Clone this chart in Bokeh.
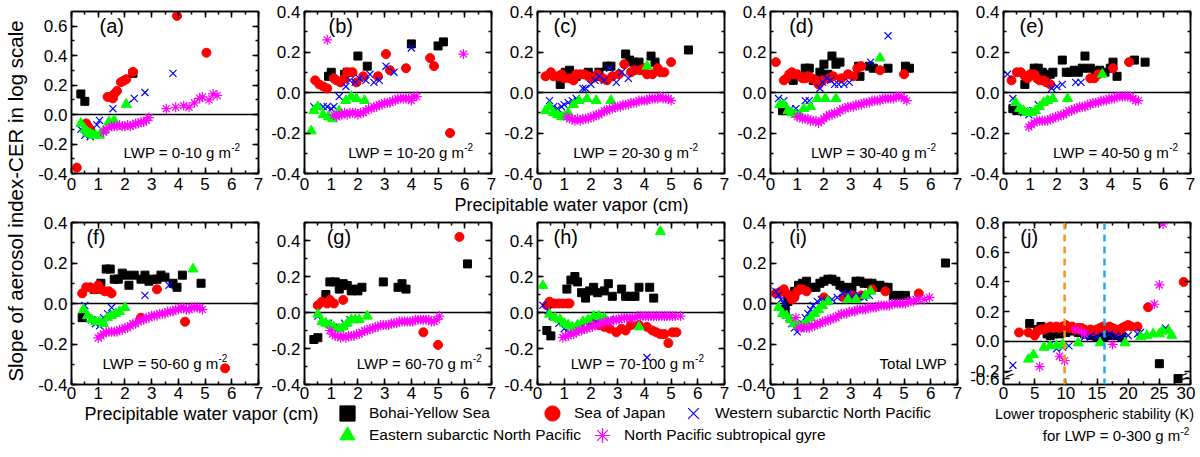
import math
from bokeh.plotting import figure
from bokeh.models import (Range1d, LinearAxis, SingleIntervalTicker, FixedTicker,
                          PrintfTickFormatter, Span, Label, Legend, LegendItem)
from bokeh.layouts import row, column
from bokeh.embed import file_html
from bokeh.resources import INLINE

FONT = "Liberation Sans"

SERIES_NAMES = ["Bohai-Yellow Sea", "Sea of Japan", "Western subarctic North Pacific",
                "Eastern subarctic North Pacific", "North Pacific subtropical gyre"]
SERIES_KEYS = ["bys", "soj", "wsnp", "esnp", "npsg"]

X_TITLE = "Precipitable water vapor (cm)"
Y_TITLE = "Slope of aerosol index-CER in log scale"
J_TITLE = "Lower tropospheric stability (K)"
J_SUB = "for LWP = 0-300 g m"
PANEL_LETTERS = ["(a)", "(b)", "(c)", "(d)", "(e)", "(f)", "(g)", "(h)", "(i)", "(j)"]
LWP_TEXTS = ["LWP = 0-10 g m", "LWP = 10-20 g m", "LWP = 20-30 g m", "LWP = 30-40 g m",
             "LWP = 40-50 g m", "LWP = 50-60 g m", "LWP = 60-70 g m", "LWP = 70-100 g m",
             "Total LWP", None]

# ---------------- data: (precipitable water vapor [cm], slope) ----------------
a_bys = [(0.35, 0.14), (0.5, 0.09), (2.3, 0.28)]
a_soj = [(0.2, -0.36), (0.55, -0.06), (0.62, -0.08), (0.7, -0.1), (1.35, 0.12), (1.45, 0.12),
         (1.55, 0.11), (1.6, 0.14), (1.7, 0.16), (1.85, 0.22), (1.95, 0.23), (2.05, 0.24),
         (2.3, 0.29), (3.95, 0.67), (5.05, 0.42)]
a_wsnp = [(0.35, -0.1), (0.5, -0.14), (0.7, -0.15), (0.95, -0.07), (1.05, -0.04), (1.55, 0.04),
          (2.1, 0.07), (2.35, 0.11), (2.75, 0.15), (3.8, 0.28)]
a_esnp = [(0.35, -0.06), (0.5, -0.1), (0.6, -0.12), (0.7, -0.13), (0.8, -0.14), (0.9, -0.14),
          (1.05, -0.14), (1.2, -0.11), (1.4, -0.05), (1.6, -0.04), (2.05, 0.07)]
a_npsg = [(1.2, -0.12), (1.3, -0.1), (1.4, -0.09), (1.5, -0.08), (1.6, -0.08), (1.7, -0.08),
          (1.8, -0.07), (1.9, -0.08), (2.0, -0.08), (2.1, -0.07), (2.2, -0.08), (2.3, -0.07),
          (2.4, -0.06), (2.5, -0.06), (2.6, -0.05), (2.7, -0.05), (2.8, -0.04), (2.9, -0.02),
          (3.55, 0.04), (3.9, 0.05), (4.2, 0.06), (4.4, 0.05), (4.6, 0.08), (4.8, 0.11),
          (4.9, 0.12), (5.15, 0.1), (5.3, 0.14), (5.45, 0.13)]

b_bys = [(0.9, 0.08), (1.0, 0.1), (1.5, 0.09), (1.6, 0.1), (2.0, 0.18), (2.35, 0.13),
         (4.0, 0.24), (5.0, 0.23), (5.2, 0.25)]
b_soj = [(0.4, 0.06), (0.55, 0.04), (0.7, 0.03), (0.85, 0.02), (1.1, 0.07), (1.2, 0.06),
         (1.35, 0.05), (1.5, 0.07), (1.6, 0.1), (1.8, 0.1), (1.95, 0.05), (2.2, 0.08),
         (2.75, 0.08), (3.05, 0.19), (3.2, 0.11), (3.8, 0.12), (4.7, 0.17), (4.85, 0.13),
         (5.45, -0.2)]
b_wsnp = [(0.35, -0.07), (0.7, -0.07), (0.85, -0.07), (1.0, -0.08), (1.1, -0.07), (1.3, -0.02),
          (1.55, 0.03), (1.7, 0.06), (1.9, 0.05), (2.05, 0.07), (2.3, 0.06), (2.45, 0.09),
          (2.6, 0.05), (2.8, 0.06), (3.05, 0.13), (3.35, 0.1), (4.0, 0.22)]
b_esnp = [(0.25, -0.19), (0.35, -0.09), (0.5, -0.07), (0.7, -0.11), (0.9, -0.12), (1.05, -0.13),
          (1.3, -0.09), (1.55, -0.04), (1.75, -0.02), (1.95, -0.03), (2.25, -0.04)]
b_npsg = [(0.85, 0.26), (1.1, -0.11), (1.2, -0.12), (1.3, -0.11), (1.4, -0.11), (1.5, -0.1),
          (1.6, -0.11), (1.7, -0.1), (1.8, -0.1), (1.9, -0.1), (2.0, -0.11), (2.1, -0.1),
          (2.2, -0.1), (2.3, -0.09), (2.4, -0.08), (2.5, -0.08), (2.6, -0.07), (2.7, -0.07),
          (2.8, -0.06), (2.9, -0.06), (3.0, -0.05), (3.1, -0.05), (3.2, -0.05), (3.3, -0.04),
          (3.4, -0.04), (3.5, -0.03), (3.6, -0.03), (3.7, -0.03), (3.8, -0.03), (3.9, -0.03),
          (4.0, -0.04), (4.1, -0.02), (4.2, -0.02), (5.95, 0.19)]

c_bys = [(0.85, 0.04), (1.05, 0.1), (1.2, 0.11), (1.45, 0.08), (1.9, 0.1), (2.2, 0.08),
         (2.3, 0.1), (2.6, 0.13), (2.75, 0.13), (3.3, 0.19), (3.45, 0.16), (3.6, 0.15),
         (3.8, 0.15), (4.25, 0.18), (4.4, 0.15), (5.65, 0.21)]
c_soj = [(0.3, 0.08), (0.5, 0.1), (0.6, 0.08), (0.75, 0.08), (0.9, 0.09), (1.0, 0.07),
         (1.2, 0.07), (1.35, 0.06), (1.45, 0.09), (1.6, 0.09), (1.75, 0.09), (1.9, 0.08),
         (2.05, 0.07), (2.25, 0.09), (2.45, 0.07), (2.6, 0.06), (2.8, 0.08), (3.05, 0.09),
         (3.25, 0.14), (3.5, 0.1), (3.65, 0.11), (3.85, 0.11), (4.0, 0.12), (4.1, 0.09),
         (4.3, 0.09), (4.5, 0.12), (4.6, 0.1), (4.75, 0.1), (5.0, 0.15)]
c_wsnp = [(0.45, -0.04), (0.6, -0.07), (0.75, -0.08), (0.9, -0.07), (1.0, -0.06), (1.15, -0.05),
          (1.3, -0.04), (1.45, -0.03), (1.7, 0.02), (1.8, 0.02), (2.0, 0.04), (2.15, 0.06),
          (2.3, 0.08), (2.5, 0.06), (2.7, 0.12), (2.95, 0.05), (3.15, 0.1), (3.4, 0.07)]
c_esnp = [(0.3, -0.09), (0.45, -0.07), (0.6, -0.1), (0.75, -0.11), (0.9, -0.12), (1.0, -0.12),
          (1.15, -0.1), (1.35, -0.06), (1.55, -0.04), (1.85, -0.03), (2.2, -0.04), (2.75, -0.04),
          (4.1, 0.13)]
c_npsg = [(1.1, -0.12), (1.2, -0.13), (1.3, -0.13), (1.4, -0.14), (1.5, -0.13), (1.6, -0.14),
          (1.7, -0.13), (1.8, -0.13), (1.9, -0.13), (2.0, -0.12), (2.1, -0.12), (2.2, -0.11),
          (2.3, -0.11), (2.4, -0.1), (2.5, -0.09), (2.6, -0.09), (2.7, -0.08), (2.8, -0.08),
          (2.9, -0.07), (3.0, -0.07), (3.1, -0.07), (3.2, -0.06), (3.3, -0.06), (3.4, -0.06),
          (3.5, -0.05), (3.6, -0.05), (3.7, -0.05), (3.8, -0.04), (3.9, -0.04), (4.0, -0.04),
          (4.1, -0.04), (4.2, -0.03), (4.3, -0.03), (4.4, -0.03), (4.5, -0.03), (4.6, -0.02),
          (4.7, -0.03), (4.8, -0.03), (4.9, -0.03), (5.0, -0.04)]

d_bys = [(0.45, -0.09), (0.85, 0.06), (1.3, 0.12), (1.45, 0.12), (1.6, 0.06), (1.85, 0.1),
         (2.0, 0.14), (2.15, 0.09), (2.3, 0.18), (2.45, 0.14), (2.6, 0.15), (3.3, 0.13),
         (3.35, 0.08), (3.7, 0.13), (3.85, 0.12), (4.4, 0.12), (5.05, 0.13), (5.2, 0.12)]
d_soj = [(0.2, 0.15), (0.5, 0.06), (0.6, 0.07), (0.7, 0.09), (0.8, 0.1), (0.9, 0.09),
         (1.0, 0.09), (1.1, 0.08), (1.2, 0.07), (1.3, 0.07), (1.4, 0.08), (1.55, 0.07),
         (1.7, 0.06), (1.8, 0.04), (1.95, 0.06), (2.2, 0.07), (2.35, 0.08), (2.65, 0.07),
         (2.9, 0.09), (3.1, 0.08), (3.25, 0.12), (3.4, 0.13), (4.1, 0.11), (5.0, 0.09)]
d_wsnp = [(0.3, -0.03), (0.5, -0.04), (0.75, -0.08), (0.95, -0.08), (1.1, -0.1), (1.3, -0.04),
          (1.45, -0.04), (1.85, 0.02), (1.95, 0.05), (2.1, 0.07), (2.25, 0.06), (2.4, 0.04),
          (2.55, 0.04), (2.75, 0.04), (2.95, 0.05), (3.75, 0.15), (4.4, 0.28)]
d_esnp = [(0.35, -0.06), (0.5, -0.06), (0.65, -0.09), (0.8, -0.1), (0.95, -0.11), (1.1, -0.11),
          (1.25, -0.08), (1.5, -0.07), (1.75, -0.03), (2.05, -0.03), (2.45, -0.03), (4.1, 0.17)]
d_npsg = [(1.0, -0.12), (1.1, -0.12), (1.2, -0.13), (1.3, -0.13), (1.4, -0.13), (1.5, -0.14),
          (1.6, -0.14), (1.7, -0.14), (1.8, -0.15), (1.9, -0.14), (2.0, -0.13), (2.1, -0.12),
          (2.2, -0.11), (2.3, -0.11), (2.4, -0.1), (2.5, -0.1), (2.6, -0.09), (2.7, -0.08),
          (2.8, -0.08), (2.9, -0.07), (3.0, -0.07), (3.1, -0.07), (3.2, -0.06), (3.3, -0.06),
          (3.4, -0.06), (3.5, -0.05), (3.6, -0.05), (3.7, -0.05), (3.8, -0.04), (3.9, -0.04),
          (4.0, -0.04), (4.1, -0.04), (4.2, -0.03), (4.3, -0.03), (4.4, -0.03), (4.5, -0.03),
          (4.6, -0.03), (4.7, -0.02), (4.8, -0.02), (4.9, -0.02), (5.0, -0.03), (5.1, -0.04)]

e_bys = [(0.35, -0.08), (0.5, -0.09), (0.8, 0.04), (1.15, 0.12), (1.3, 0.12), (1.45, 0.1),
         (1.6, 0.07), (1.75, 0.09), (1.85, 0.1), (2.2, 0.16), (2.35, 0.1), (2.5, 0.1),
         (2.65, 0.11), (2.8, 0.1), (2.95, 0.12), (3.05, 0.18), (3.25, 0.12), (3.45, 0.1),
         (3.6, 0.11), (3.8, 0.1), (4.0, 0.12), (4.1, 0.15), (4.25, 0.08), (4.9, 0.16), (5.3, 0.15)]
e_soj = [(0.3, 0.06), (0.5, 0.1), (0.65, 0.1), (0.8, 0.08), (0.9, 0.07), (1.0, 0.09),
         (1.15, 0.09), (1.25, 0.07), (1.35, 0.06), (1.5, 0.06), (1.6, 0.05), (1.75, 0.04),
         (3.25, 0.07), (3.4, 0.07), (3.55, 0.09), (4.1, 0.12), (4.7, 0.15)]
e_wsnp = [(0.15, 0.09), (0.35, -0.03), (0.55, -0.08), (0.75, -0.1), (0.95, -0.11), (1.1, -0.09),
          (1.3, -0.06), (1.8, 0.02), (2.0, 0.03), (2.2, 0.04), (2.7, 0.05), (2.9, 0.05)]
e_esnp = [(0.45, -0.05), (0.6, -0.08), (0.75, -0.09), (0.9, -0.1), (1.05, -0.1), (1.2, -0.09),
          (1.35, -0.07), (1.5, -0.05), (1.65, -0.04), (1.85, -0.03), (2.4, -0.03), (3.7, 0.09)]
e_npsg = [(0.95, -0.17), (1.05, -0.16), (1.15, -0.15), (1.25, -0.14), (1.35, -0.14), (1.45, -0.14),
          (1.55, -0.14), (1.65, -0.14), (1.75, -0.13), (1.85, -0.13), (1.95, -0.12), (2.05, -0.12),
          (2.15, -0.11), (2.25, -0.11), (2.35, -0.1), (2.45, -0.09), (2.55, -0.09), (2.65, -0.08),
          (2.75, -0.08), (2.85, -0.07), (2.95, -0.07), (3.05, -0.07), (3.15, -0.06), (3.25, -0.06),
          (3.35, -0.05), (3.45, -0.05), (3.55, -0.05), (3.65, -0.04), (3.75, -0.04), (3.85, -0.04),
          (3.95, -0.03), (4.05, -0.03), (4.15, -0.03), (4.25, -0.02), (4.35, -0.02), (4.45, -0.02),
          (4.55, -0.02), (4.65, -0.02), (4.75, -0.02), (4.85, -0.03), (4.95, -0.04), (5.05, -0.04)]

f_bys = [(0.4, -0.07), (0.85, 0.07), (1.1, 0.1), (1.3, 0.17), (1.45, 0.17), (1.6, 0.12),
         (1.75, 0.12), (1.9, 0.15), (2.05, 0.14), (2.15, 0.09), (2.35, 0.14), (2.6, 0.12),
         (2.75, 0.14), (2.9, 0.11), (3.05, 0.12), (3.2, 0.12), (3.35, 0.14), (3.5, 0.13),
         (3.8, 0.1), (3.95, 0.08), (4.15, 0.14), (4.85, 0.1)]
f_soj = [(0.4, 0.05), (0.55, 0.08), (0.7, 0.08), (0.85, 0.07), (1.0, 0.09), (1.1, 0.07),
         (1.25, 0.06), (1.4, 0.06), (1.5, 0.05), (2.6, -0.07), (3.2, 0.07), (4.25, -0.09),
         (5.75, -0.32)]
f_wsnp = [(0.5, -0.01), (0.6, -0.07), (0.75, -0.08), (0.9, -0.1), (1.05, -0.11), (1.2, -0.07),
          (1.35, -0.05), (1.5, -0.02), (2.75, 0.04), (3.65, 0.09)]
f_esnp = [(0.45, -0.03), (0.6, -0.06), (0.75, -0.08), (0.9, -0.09), (1.05, -0.09), (1.2, -0.1),
          (1.35, -0.07), (1.5, -0.06), (1.65, -0.05), (1.8, -0.04), (2.0, -0.02), (4.55, 0.17)]
f_npsg = [(1.0, -0.17), (1.1, -0.16), (1.2, -0.15), (1.3, -0.14), (1.4, -0.14), (1.5, -0.14),
          (1.6, -0.14), (1.7, -0.14), (1.8, -0.13), (1.9, -0.13), (2.0, -0.12), (2.1, -0.12),
          (2.2, -0.11), (2.3, -0.1), (2.4, -0.1), (2.5, -0.09), (2.6, -0.08), (2.7, -0.08),
          (2.8, -0.07), (2.9, -0.07), (3.0, -0.06), (3.1, -0.06), (3.2, -0.06), (3.3, -0.05),
          (3.4, -0.05), (3.5, -0.05), (3.6, -0.04), (3.7, -0.04), (3.8, -0.04), (3.9, -0.03),
          (4.0, -0.03), (4.1, -0.02), (4.2, -0.02), (4.3, -0.03), (4.4, -0.03), (4.5, -0.02),
          (4.6, -0.02), (4.7, -0.02), (4.8, -0.02), (4.9, -0.03)]

g_bys = [(0.35, -0.15), (0.5, -0.14), (0.8, 0.1), (0.95, 0.17), (1.15, 0.17), (1.3, 0.13),
         (1.45, 0.16), (1.6, 0.15), (1.75, 0.12), (1.9, 0.13), (2.0, 0.12), (2.15, 0.14),
         (2.95, 0.17), (3.5, 0.14), (3.65, 0.16), (3.8, 0.13), (6.1, 0.27)]
g_soj = [(0.5, 0.04), (0.65, 0.06), (0.85, 0.05), (0.95, 0.07), (1.1, 0.05), (1.45, 0.07),
         (4.45, -0.11), (5.0, -0.18), (5.8, 0.42)]
g_wsnp = [(0.5, -0.02), (0.7, -0.05), (0.9, -0.06), (1.1, -0.09), (1.3, -0.08), (1.5, -0.06),
          (1.7, -0.04), (1.85, -0.04)]
g_esnp = [(0.5, -0.01), (0.65, -0.05), (0.8, -0.06), (0.95, -0.07), (1.1, -0.08), (1.3, -0.09),
          (1.45, -0.08), (1.6, -0.06), (1.75, -0.04), (1.9, -0.04), (2.05, -0.04), (2.35, -0.02)]
g_npsg = [(0.95, -0.1), (1.05, -0.12), (1.15, -0.13), (1.25, -0.13), (1.35, -0.14), (1.45, -0.13),
          (1.55, -0.14), (1.65, -0.13), (1.75, -0.13), (1.85, -0.13), (1.95, -0.12), (2.05, -0.12),
          (2.15, -0.11), (2.25, -0.1), (2.35, -0.1), (2.45, -0.09), (2.55, -0.09), (2.65, -0.08),
          (2.75, -0.08), (2.85, -0.07), (2.95, -0.07), (3.05, -0.07), (3.15, -0.07), (3.25, -0.06),
          (3.35, -0.06), (3.45, -0.06), (3.55, -0.05), (3.65, -0.05), (3.75, -0.05), (3.85, -0.05),
          (3.95, -0.05), (4.05, -0.05), (4.15, -0.04), (4.25, -0.04), (4.35, -0.04), (4.45, -0.04),
          (4.55, -0.04), (4.65, -0.04), (4.75, -0.05), (4.85, -0.05), (4.95, -0.04), (5.05, -0.02)]

h_bys = [(0.35, -0.1), (0.5, -0.13), (1.1, 0.13), (1.25, 0.18), (1.4, 0.2), (1.5, 0.17),
         (1.65, 0.11), (1.8, 0.08), (1.95, 0.12), (2.1, 0.14), (2.25, 0.11), (2.5, 0.12),
         (2.65, 0.16), (2.8, 0.09), (3.15, 0.13), (3.3, 0.09), (3.5, 0.09), (3.65, 0.09),
         (3.8, 0.14), (4.2, 0.14), (4.35, 0.08)]
h_soj = [(0.35, 0.04), (0.45, 0.06), (0.55, 0.05), (0.65, 0.05), (0.8, 0.05), (0.95, 0.05),
         (1.1, 0.05), (1.2, 0.05), (2.05, -0.06), (2.3, -0.07), (2.5, -0.08), (2.7, -0.09),
         (2.95, -0.11), (3.15, -0.09), (3.3, -0.1), (3.5, -0.07), (3.8, -0.07), (4.1, -0.08),
         (4.3, -0.1), (4.45, -0.11), (4.6, -0.12), (4.75, -0.12), (4.9, -0.17), (5.05, -0.11),
         (5.2, -0.11)]
h_wsnp = [(0.2, 0.04), (0.4, 0.01), (0.55, -0.02), (0.8, -0.06), (1.0, -0.09), (1.2, -0.11),
          (1.45, -0.09), (1.7, -0.07), (1.95, -0.06), (2.2, -0.05), (2.45, -0.04), (2.7, -0.04),
          (2.95, -0.04), (4.1, -0.25)]
h_esnp = [(0.2, 0.15), (0.45, -0.01), (0.65, -0.03), (0.85, -0.04), (1.0, -0.06), (1.15, -0.07),
          (1.3, -0.08), (1.5, -0.07), (1.7, -0.05), (1.9, -0.04), (2.1, -0.02), (2.3, -0.02),
          (2.5, -0.03), (3.8, -0.08), (4.6, 0.45)]
h_npsg = [(0.95, -0.14), (1.05, -0.13), (1.15, -0.13), (1.25, -0.12), (1.35, -0.12), (1.45, -0.11),
          (1.55, -0.1), (1.65, -0.1), (1.75, -0.09), (1.85, -0.09), (1.95, -0.08), (2.05, -0.08),
          (2.15, -0.07), (2.25, -0.07), (2.35, -0.06), (2.45, -0.06), (2.55, -0.05), (2.65, -0.05),
          (2.75, -0.05), (2.85, -0.04), (2.95, -0.04), (3.05, -0.04), (3.15, -0.03), (3.25, -0.03),
          (3.35, -0.03), (3.45, -0.03), (3.55, -0.03), (3.65, -0.03), (3.75, -0.02), (3.85, -0.02),
          (3.95, -0.02), (4.05, -0.02), (4.15, -0.02), (4.25, -0.02), (4.35, -0.02), (4.45, -0.02),
          (4.55, -0.02), (4.65, -0.02), (4.75, -0.02), (4.85, -0.02), (4.95, -0.02), (5.05, -0.02),
          (5.15, -0.02), (5.35, -0.02)]

i_bys = [(0.55, -0.03), (0.65, 0.01), (0.75, 0.04), (0.9, 0.06), (1.05, 0.09), (1.2, 0.1),
         (1.35, 0.11), (1.5, 0.08), (1.7, 0.08), (1.85, 0.1), (2.0, 0.11), (2.15, 0.12),
         (2.3, 0.12), (2.45, 0.11), (2.6, 0.09), (2.75, 0.08), (2.9, 0.07), (3.05, 0.08),
         (3.2, 0.11), (3.35, 0.11), (3.5, 0.1), (3.65, 0.1), (3.8, 0.1), (3.95, 0.08),
         (4.1, 0.09), (4.25, 0.08), (4.4, 0.08), (4.6, 0.04), (4.8, 0.04), (5.05, 0.04), (6.55, 0.2)]
i_soj = [(0.2, 0.05), (0.3, 0.05), (0.4, 0.06), (0.5, 0.07), (0.6, 0.05), (0.7, 0.04),
         (0.8, 0.02), (0.9, 0.03), (1.0, 0.06), (1.1, 0.07), (1.2, 0.07), (1.35, 0.06),
         (2.0, 0.03), (2.75, 0.03), (3.05, 0.04), (3.4, 0.04), (3.8, 0.07), (4.3, 0.06), (5.55, 0.05)]
i_wsnp = [(0.2, 0.06), (0.3, 0.04), (0.4, 0.02), (0.5, 0.0), (0.6, -0.04), (0.7, -0.07),
          (0.8, -0.1), (0.9, -0.12), (1.0, -0.14), (1.1, -0.12), (1.2, -0.1), (1.3, -0.07),
          (1.4, -0.05), (1.5, -0.03), (1.6, -0.01), (1.75, 0.01), (1.9, 0.02), (2.1, 0.01),
          (2.3, 0.02), (2.5, 0.03), (2.7, 0.05), (2.9, 0.05), (3.1, 0.04), (3.3, 0.04),
          (3.5, 0.03), (3.7, 0.04)]
i_esnp = [(0.3, -0.02), (0.45, -0.05), (0.6, -0.06), (0.75, -0.08), (0.9, -0.1), (1.05, -0.11),
          (1.2, -0.11), (1.35, -0.09), (1.5, -0.07), (1.65, -0.05), (1.8, -0.03), (1.95, -0.01),
          (2.15, 0.01), (2.9, 0.02), (3.2, 0.02), (3.55, 0.04), (3.75, 0.06)]
i_npsg = [(0.95, -0.07), (1.05, -0.12), (1.15, -0.12), (1.25, -0.12), (1.35, -0.12), (1.45, -0.12),
          (1.55, -0.11), (1.65, -0.11), (1.75, -0.1), (1.85, -0.1), (1.95, -0.09), (2.05, -0.09),
          (2.15, -0.08), (2.25, -0.08), (2.35, -0.07), (2.45, -0.07), (2.55, -0.06), (2.65, -0.05),
          (2.75, -0.05), (2.85, -0.05), (2.95, -0.04), (3.05, -0.04), (3.15, -0.04), (3.25, -0.03),
          (3.35, -0.03), (3.45, -0.03), (3.55, -0.03), (3.65, -0.02), (3.75, -0.02), (3.85, -0.02),
          (3.95, -0.02), (4.05, -0.01), (4.15, -0.01), (4.25, -0.01), (4.35, -0.01), (4.45, -0.01),
          (4.55, 0.0), (4.65, 0.0), (4.75, 0.0), (4.85, 0.0), (4.95, 0.0), (5.05, 0.0),
          (5.15, 0.01), (5.25, 0.01), (5.35, 0.01), (5.45, 0.02), (5.55, 0.02), (5.75, 0.02),
          (5.95, 0.03)]

# (j): x = lower tropospheric stability (K)
j_bys = [(4.2, 0.12), (5.5, 0.08), (6.0, 0.1), (7.0, 0.05), (7.5, 0.04), (8.0, 0.05), (9.0, 0.05),
         (10.0, 0.06), (11.0, 0.07), (12.0, 0.06), (13.0, 0.05), (14.0, 0.04), (15.0, 0.03),
         (16.0, 0.03), (17.0, 0.04), (18.0, 0.04), (19.0, 0.03), (25.0, -0.15), (28.0, -0.6)]
j_soj = [(2.5, 0.06), (4.0, 0.06), (5.0, 0.04), (5.5, 0.07), (6.0, 0.08), (6.5, 0.08), (7.0, 0.09),
         (7.5, 0.1), (8.0, 0.09), (8.5, 0.1), (9.0, 0.09), (9.5, 0.1), (10.0, 0.11), (10.5, 0.09),
         (11.0, 0.1), (11.5, 0.08), (12.0, 0.09), (12.5, 0.09), (13.0, 0.08), (13.5, 0.07),
         (14.0, 0.08), (14.5, 0.07), (15.0, 0.08), (15.5, 0.09), (16.0, 0.1), (16.5, 0.09),
         (17.0, 0.1), (17.5, 0.09), (18.0, 0.08), (18.5, 0.07), (19.0, 0.09), (19.5, 0.1),
         (20.0, 0.11), (20.5, 0.1), (21.5, 0.1), (23.2, 0.23), (28.9, 0.4)]
j_wsnp = [(1.5, -0.16), (7.5, -0.02), (8.5, -0.05), (9.5, -0.04), (10.5, -0.03), (13.0, 0.03),
          (14.0, 0.04), (15.0, 0.03), (16.0, 0.04), (17.0, 0.05), (18.0, 0.04), (19.0, 0.03),
          (20.0, 0.04), (21.5, 0.05), (22.0, 0.06), (26.0, 0.09)]
j_esnp = [(4.0, -0.12), (4.8, -0.09), (6.5, -0.04), (7.5, -0.03), (8.5, -0.03), (9.5, -0.02),
          (12.0, -0.01), (15.5, -0.01), (19.5, -0.01), (22.0, 0.03), (23.0, 0.04), (24.0, 0.05),
          (25.0, 0.05), (25.5, 0.07), (26.5, 0.07), (27.0, 0.04)]
j_npsg = [(5.8, -0.17), (9.0, -0.1), (9.8, -0.13), (11.5, 0.08), (12.5, 0.07), (13.0, 0.05),
          (17.5, -0.02), (24.2, 0.25), (25.0, 0.38), (25.6, 0.79)]

J_LTS_LINES = [9.8, 16.2]           # dashed reference lines (K)
J_LTS_COLORS = ["#F7931E", "#29ABE2"]
J_BREAK_BELOW = -0.3                 # broken y-axis: values below are shifted up
J_BREAK_SHIFT = 0.35
J_YTICKS = [-0.25, -0.2, 0.0, 0.2, 0.4, 0.6, 0.8]
J_YMINOR = [-0.1, 0.1, 0.3, 0.5, 0.7]

PANEL_DATA = [
    [a_bys, a_soj, a_wsnp, a_esnp, a_npsg],
    [b_bys, b_soj, b_wsnp, b_esnp, b_npsg],
    [c_bys, c_soj, c_wsnp, c_esnp, c_npsg],
    [d_bys, d_soj, d_wsnp, d_esnp, d_npsg],
    [e_bys, e_soj, e_wsnp, e_esnp, e_npsg],
    [f_bys, f_soj, f_wsnp, f_esnp, f_npsg],
    [g_bys, g_soj, g_wsnp, g_esnp, g_npsg],
    [h_bys, h_soj, h_wsnp, h_esnp, h_npsg],
    [i_bys, i_soj, i_wsnp, i_esnp, i_npsg],
    [j_bys, j_soj, j_wsnp, j_esnp, j_npsg],
]
PANEL_XMAX = [7, 7, 7, 7, 7, 7, 7, 7, 7, 30]
PANEL_YRANGE = [(-0.4, 0.7), (-0.4, 0.4), (-0.4, 0.4), (-0.4, 0.4), (-0.4, 0.4),
                (-0.4, 0.4), (-0.4, 0.5), (-0.4, 0.5), (-0.4, 0.4), (-0.29, 0.8)]
LETTER_X = [1.05, 0.9, 0.6, 0.7, 0.6, 0.56, 0.83, 0.6, 0.7, 2.7]
LWP_ANCHOR_X = [5.98, 5.98, 5.68, 5.86, 6.2, 5.5, 6.3, 5.9, 6.6, None]

# ---------------- styles ----------------
STYLE = {
    "bys": dict(marker="square", size=8, fill_color="black", line_color="black"),
    "soj": dict(marker="circle", size=9, fill_color="#FF0000", line_color="#FF0000"),
    "wsnp": dict(marker="x", size=10, line_color="#0000FF", line_width=1.2),
    "esnp": dict(marker="triangle", size=10, fill_color="#00FF00", line_color="#00FF00"),
    "npsg": dict(marker="asterisk", size=10, line_color="#FF00FF", line_width=1.2),
}

YLAB_W = 30
PANEL_W = 233
BORDER_L = 41
BORDER_R = 5
FRAME_H = 162
ROW1_TOP, ROW1_BOT, ROW1_STANDOFF = 11, 21, 4
ROW2_TOP, ROW2_BOT, ROW2_STANDOFF = 8, 19, 2
ROW1_H = ROW1_TOP + FRAME_H + ROW1_BOT
ROW2_H = ROW2_TOP + FRAME_H + ROW2_BOT
STRIP_H = 20
TOTAL_W = YLAB_W + 5 * PANEL_W
FOOTER_H = 457 - ROW1_H - STRIP_H - ROW2_H


def style_axis(ax, show, standoff):
    ax.axis_line_width = 1.5
    ax.axis_line_color = "black"
    ax.major_tick_in = 6
    ax.major_tick_out = 0
    ax.minor_tick_in = 3
    ax.minor_tick_out = 0
    ax.major_tick_line_width = 1.5
    ax.minor_tick_line_width = 1.5
    ax.major_tick_line_color = "black"
    ax.minor_tick_line_color = "black"
    ax.major_label_text_font = FONT
    if show:
        ax.major_label_text_color = "black"
        ax.major_label_text_font_size = "17px"
        ax.major_label_standoff = standoff
    else:
        ax.major_label_text_color = None
        ax.major_label_text_font_size = "1px"
        ax.major_label_standoff = 0


def make_panel(idx, top, bottom, xstandoff):
    xmax = PANEL_XMAX[idx]
    ylo, yhi = PANEL_YRANGE[idx]
    is_j = idx == 9
    p = figure(width=PANEL_W, height=top + FRAME_H + bottom,
               x_range=Range1d(0, xmax), y_range=Range1d(ylo, yhi),
               output_backend="svg", toolbar_location=None, x_axis_type=None, y_axis_type=None,
               min_border_left=BORDER_L, min_border_right=BORDER_R,
               min_border_top=top, min_border_bottom=bottom)
    p.outline_line_color = "black"
    p.outline_line_width = 1.5
    p.background_fill_color = "white"
    p.border_fill_color = "white"

    xt = SingleIntervalTicker(interval=5 if is_j else 1, num_minor_ticks=2)
    if is_j:
        yt = FixedTicker(ticks=J_YTICKS, minor_ticks=J_YMINOR)
    else:
        yt = SingleIntervalTicker(interval=0.2, num_minor_ticks=2)
    for place, ticker, show, fmt, so in [("below", xt, True, "%d", xstandoff),
                                          ("above", xt, False, "%d", 0),
                                          ("left", yt, True, "%.1f", 4),
                                          ("right", yt, False, "%.1f", 0)]:
        ax = LinearAxis(ticker=ticker, formatter=PrintfTickFormatter(format=fmt))
        if is_j and place == "left":
            ax.major_label_overrides = {-0.25: "-0.6"}
        style_axis(ax, show, so)
        p.add_layout(ax, place)

    p.add_layout(Span(location=0, dimension="width", line_color="black", line_width=1.5,
                      level="underlay"))

    if is_j:
        for loc, col in zip(J_LTS_LINES, J_LTS_COLORS):
            p.add_layout(Span(location=loc, dimension="height", line_color=col,
                              line_width=2.5, line_dash="7 5"))

    for key, pts in zip(SERIES_KEYS, PANEL_DATA[idx]):
        xs = [pt[0] for pt in pts]
        ys = [pt[1] for pt in pts]
        if is_j:
            ys = [y + J_BREAK_SHIFT if y < J_BREAK_BELOW else y for y in ys]
        p.scatter(x=xs, y=ys, **STYLE[key])

    yspan = yhi - ylo
    p.add_layout(Label(x=LETTER_X[idx], y=yhi - 0.09 * yspan, text=PANEL_LETTERS[idx],
                       text_font=FONT, text_font_size="20px", text_align="left",
                       text_baseline="middle", text_color="black"))
    if LWP_TEXTS[idx] is not None:
        ly = ylo + 0.13 * yspan
        p.add_layout(Label(x=LWP_ANCHOR_X[idx], y=ly, text=LWP_TEXTS[idx], text_font=FONT,
                           text_font_size="15px", text_align="right", text_baseline="middle",
                           text_color="black"))
        if LWP_TEXTS[idx].endswith("g m"):
            p.add_layout(Label(x=LWP_ANCHOR_X[idx], y=ly, y_offset=5, text="-2", text_font=FONT,
                               text_font_size="10px", text_align="left", text_baseline="middle",
                               text_color="black"))
    if is_j:
        brk = -0.225
        for bx, align, xo in ((0, "left", 1), (xmax, "right", -2)):
            p.add_layout(Label(x=bx, y=brk, x_offset=xo, text="=", angle=0.35, text_font=FONT,
                               text_font_size="16px", text_align=align,
                               text_baseline="middle", text_color="black"))
    return p


def blank(width, height):
    q = figure(width=width, height=height, x_range=Range1d(0, width), y_range=Range1d(0, height),
               output_backend="svg", toolbar_location=None, x_axis_type=None, y_axis_type=None,
               min_border=0, min_border_left=0, min_border_right=0, min_border_top=0,
               min_border_bottom=0)
    q.outline_line_color = None
    return q


row1 = [make_panel(k, ROW1_TOP, ROW1_BOT, ROW1_STANDOFF) for k in range(5)]
row2 = [make_panel(k, ROW2_TOP, ROW2_BOT, ROW2_STANDOFF) for k in range(5, 10)]

strip = blank(5 * PANEL_W, STRIP_H)
strip.add_layout(Label(x=541, y=10, text=X_TITLE, text_font=FONT, text_font_size="18px",
                       text_align="center", text_baseline="middle", text_color="black"))

YLAB_H = ROW1_H + STRIP_H + ROW2_H
ylab = blank(YLAB_W, YLAB_H)
ylab.add_layout(Label(x=15, y=YLAB_H / 2 + 1, text=Y_TITLE,
                      angle=math.pi / 2, text_font=FONT, text_font_size="20.5px",
                      text_align="center", text_baseline="middle", text_color="black"))

LINE1_Y = FOOTER_H - 10
LINE2_Y = FOOTER_H - 32
footer = blank(TOTAL_W, FOOTER_H)
footer.add_layout(Label(x=201, y=LINE1_Y, text=X_TITLE, text_font=FONT,
                        text_font_size="18px", text_align="center", text_baseline="middle",
                        text_color="black"))
footer.add_layout(Label(x=1094, y=LINE1_Y, text=J_TITLE, text_font=FONT,
                        text_font_size="14.5px", text_align="center", text_baseline="middle",
                        text_color="black"))
footer.add_layout(Label(x=1180, y=LINE2_Y, text=J_SUB, text_font=FONT,
                        text_font_size="15px", text_align="right", text_baseline="middle",
                        text_color="black"))
footer.add_layout(Label(x=1180, y=LINE2_Y, y_offset=5, text="-2", text_font=FONT,
                        text_font_size="10px", text_align="left", text_baseline="middle",
                        text_color="black"))

LEGEND_POS = [(328, LINE1_Y - 19), (533, LINE1_Y - 19), (674, LINE1_Y - 19),
              (328, LINE2_Y - 19), (583, LINE2_Y - 19)]
for key, name, pos in zip(SERIES_KEYS, SERIES_NAMES, LEGEND_POS):
    r = footer.scatter(x=[-1000], y=[-1000], **STYLE[key])
    leg = Legend(items=[LegendItem(label=name, renderers=[r])], location=pos, padding=0, margin=0,
                 border_line_color=None, background_fill_alpha=0, glyph_width=38, glyph_height=38,
                 label_standoff=3, label_text_font=FONT, label_text_font_size="15.5px",
                 label_text_color="black", spacing=0)
    footer.add_layout(leg)

layout = column(row(ylab, column(row(*row1), strip, row(*row2))), footer)

open("out.html", "w").write(file_html(layout, INLINE))
